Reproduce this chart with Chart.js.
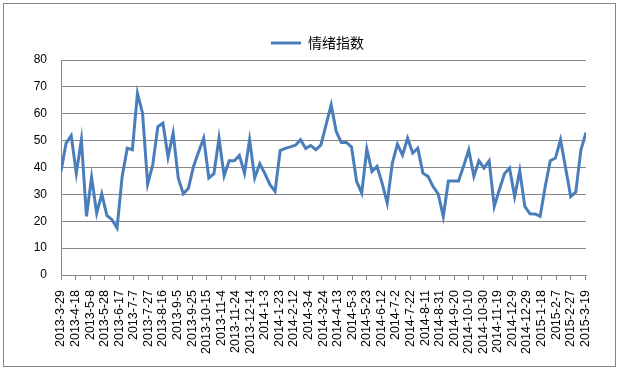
<!DOCTYPE html>
<html>
<head>
<meta charset="utf-8">
<script src="https://cdn.jsdelivr.net/npm/chart.js@4/dist/chart.umd.min.js"></script>
<style>
  body { margin: 0; background: #fff; }
  #frame { position: absolute; left: 3px; top: 3px; width: 611px; height: 362px; border: 1px solid #868686; }
  #wrap { position: absolute; left: 0; top: 0; width: 619px; height: 370px; }
</style>
</head>
<body>
<div id="frame"></div>
<div id="wrap"><canvas id="myChart"></canvas></div>
<script>
// weekly series, first point on 2013-3-29
const startDate = [2013, 3, 29];
const stepDays = 7;
const seriesName = "情绪指数";
const values = [
  38.5, 49.1, 51.9, 37.9, 50.3, 21.8, 36.4, 23.0, 30.2, 22.2,
  20.6, 17.5, 36.7, 47.2, 46.6, 67.6, 60.2, 33.8, 41.0, 55.2,
  56.5, 43.9, 52.8, 36.1, 30.2, 32.3, 40.4, 45.9, 50.9, 36.1,
  37.7, 50.9, 36.9, 42.5, 42.5, 44.5, 37.9, 50.3, 36.1, 41.4,
  37.7, 33.6, 31.1, 46.3, 47.1, 47.7, 48.3, 50.3, 47.1, 48.2,
  46.6, 48.4, 55.9, 63.3, 53.4, 49.3, 49.3, 47.6, 34.8, 30.5,
  46.9, 38.5, 40.4, 34.2, 26.8, 41.6, 48.7, 44.6, 50.9, 45.4,
  47.2, 37.9, 36.7, 32.9, 30.2, 21.8, 35.0, 35.0, 35.0, 40.6,
  46.6, 36.7, 42.5, 39.8, 42.5, 25.5, 31.7, 37.7, 39.8, 29.2,
  38.8, 25.5, 22.8, 22.7, 21.8, 32.9, 42.5, 43.5, 50.3, 39.8,
  29.2, 30.9, 46.6, 53.0
];
const labelEveryDays = 20;
const yTicks = { min: 0, max: 80, step: 10 };

function dayLabel(offset) {
  let d = new Date(Date.UTC(startDate[0], startDate[1] - 1, startDate[2] + offset));
  return d.getUTCFullYear() + "-" + (d.getUTCMonth() + 1) + "-" + d.getUTCDate();
}

const points = values.map((v, i) => ({ x: i * stepDays, y: v }));
const lastDay = (values.length - 1) * stepDays;
const gray = "#868686";

// Excel centres the legend a little right of the canvas middle
const legendShift = {
  id: "legendShift",
  afterLayout(chart) {
    chart.legend.left += 8;
    chart.legend.right += 8;
  },
};

new Chart(document.getElementById("myChart"), {
  type: "line",
  data: {
    datasets: [{
      label: seriesName,
      data: points,
      borderColor: "#4a7ebb",
      backgroundColor: "#4a7ebb",
      borderWidth: 3,
      pointRadius: 0,
      tension: 0,
      fill: false,
    }],
  },
  plugins: [legendShift],
  options: {
    responsive: true,
    maintainAspectRatio: false,
    animation: false,
    layout: { padding: { left: 33, right: 33, top: 26, bottom: 4 } },
    plugins: {
      tooltip: { enabled: false },
      legend: {
        position: "top",
        labels: {
          usePointStyle: true,
          pointStyle: "line",
          pointStyleWidth: 30,
          padding: 10,
          color: "#000",
          font: { family: "'Noto Sans CJK SC'", size: 14 },
        },
      },
    },
    scales: {
      x: {
        type: "linear",
        min: 0,
        max: lastDay,
        afterBuildTicks: (scale) => {
          let ticks = [];
          for (let d = 0; d <= lastDay; d += labelEveryDays) ticks.push({ value: d });
          scale.ticks = ticks;
        },
        afterFit: (scale) => { scale.height = 91; },
        grid: { drawOnChartArea: false, drawTicks: true, tickLength: 5, color: gray },
        border: { color: gray },
        ticks: {
          autoSkip: false,
          maxRotation: 90,
          minRotation: 90,
          padding: 10,
          color: "#000",
          font: { family: "'Liberation Sans'", size: 12.5 },
          callback: (v) => dayLabel(v),
        },
      },
      y: {
        min: yTicks.min,
        max: yTicks.max,
        afterFit: (scale) => { scale.width = 28; },
        grid: { color: gray, drawTicks: false },
        border: { color: gray },
        ticks: {
          stepSize: yTicks.step,
          padding: 14,
          color: "#000",
          font: { family: "'Liberation Sans'", size: 12 },
        },
      },
    },
  },
});
</script>
</body>
</html>
